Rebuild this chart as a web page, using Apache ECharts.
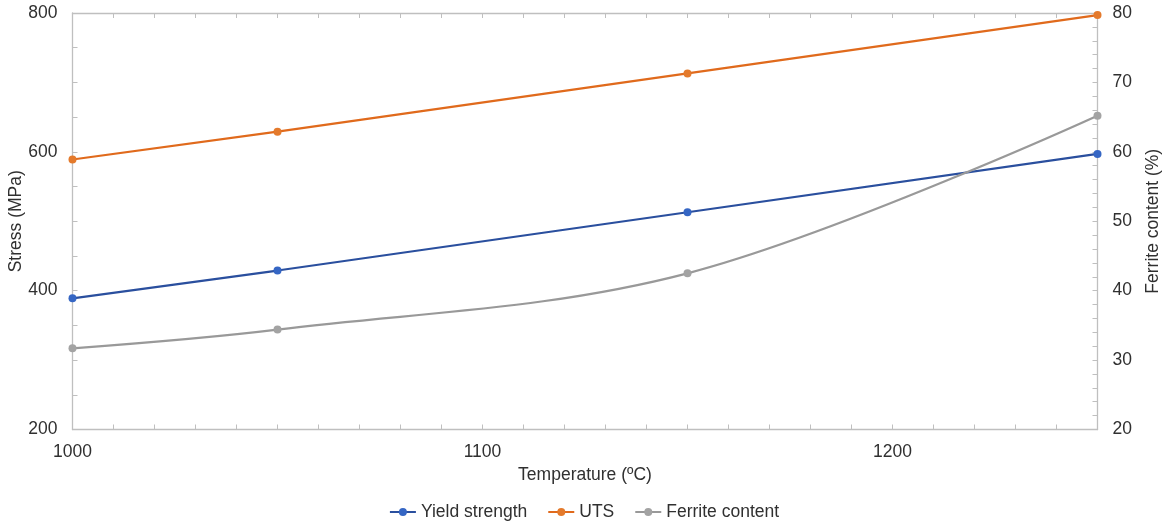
<!DOCTYPE html>
<html>
<head>
<meta charset="utf-8">
<script src="https://cdn.jsdelivr.net/npm/echarts@6/dist/echarts.min.js"></script>
<style>html,body{margin:0;padding:0;background:#fff}#c{width:1168px;height:524px}</style>
</head>
<body>
<div id="c"></div>
<script>
const temperatures = [1000, 1050, 1150, 1250];
const yieldStrength = [389, 429, 513, 597];
const uts = [589, 629, 713, 797];
const ferrite = [31.7, 34.4, 42.5, 65.2];
const xLabels = [1000, 1100, 1200];
const stressTicks = [200, 400, 600, 800];
const ferriteTicks = [20, 30, 40, 50, 60, 70, 80];

const pairs = (ys) => temperatures.map((t, i) => [t, ys[i]]);
const txt = '#303030';
const axisCol = '#bfbfbf';
const font = 'Liberation Sans, Arial, sans-serif';

const chart = echarts.init(document.getElementById('c'));
const xBase = {
  type: 'value', min: 1000, max: 1250, interval: 10,
  axisLine: { show: true, lineStyle: { color: axisCol, width: 1.3 } },
  axisTick: { show: true, inside: true, length: 5, lineStyle: { color: axisCol } },
  splitLine: { show: false }
};
chart.setOption({
  animation: false,
  textStyle: { fontFamily: font },
  grid: { left: 72.5, right: 70.5, top: 13, bottom: 94.5, containLabel: false, outerBoundsMode: 'none' },
  legend: {
    top: 498, left: 'center', itemWidth: 26, itemHeight: 10, itemGap: 20,
    textStyle: { fontSize: 17.5, color: txt, fontFamily: font },
    data: ['Yield strength', 'UTS', 'Ferrite content']
  },
  xAxis: [
    Object.assign({}, xBase, {
      position: 'bottom',
      name: 'Temperature (ºC)', nameLocation: 'middle', nameGap: 35,
      nameTextStyle: { fontSize: 17.5, color: txt },
      axisLabel: {
        show: true, fontSize: 17.5, color: txt, margin: 14,
        formatter: (v) => xLabels.indexOf(v) >= 0 ? String(v) : ''
      }
    }),
    Object.assign({}, xBase, { position: 'top', axisLabel: { show: false } })
  ],
  yAxis: [
    {
      type: 'value', position: 'left', min: 200, max: 800, interval: 200,
      name: 'Stress (MPa)', nameLocation: 'middle', nameGap: 47, nameRotate: 90,
      nameMoveOverlap: false,
      nameTextStyle: { fontSize: 17.5, color: txt },
      axisLine: { show: true, lineStyle: { color: axisCol, width: 1.3 } },
      axisTick: { show: true, inside: true, length: 5, lineStyle: { color: axisCol } },
      minorTick: { show: true, splitNumber: 4, length: 5, lineStyle: { color: axisCol } },
      axisLabel: { fontSize: 17.5, color: txt, margin: 15,
        formatter: (v) => stressTicks.indexOf(v) >= 0 ? String(v) : '' },
      splitLine: { show: false }
    },
    {
      type: 'value', position: 'right', min: 20, max: 80, interval: 10,
      name: 'Ferrite content (%)', nameLocation: 'middle', nameGap: 47, nameRotate: 90,
      nameTextStyle: { fontSize: 17.5, color: txt },
      axisLine: { show: true, lineStyle: { color: axisCol, width: 1.3 } },
      axisTick: { show: true, inside: true, length: 5, lineStyle: { color: axisCol } },
      minorTick: { show: true, splitNumber: 5, length: 5, lineStyle: { color: axisCol } },
      axisLabel: { fontSize: 17.5, color: txt, margin: 15,
        formatter: (v) => ferriteTicks.indexOf(v) >= 0 ? String(v) : '' },
      splitLine: { show: false }
    }
  ],
  series: [
    {
      name: 'Yield strength', type: 'line', xAxisIndex: 0, yAxisIndex: 0,
      data: pairs(yieldStrength), symbol: 'circle', symbolSize: 8,
      lineStyle: { color: '#2a4f9e', width: 2.2 },
      itemStyle: { color: '#3566c4' }
    },
    {
      name: 'UTS', type: 'line', xAxisIndex: 0, yAxisIndex: 0,
      data: pairs(uts), symbol: 'circle', symbolSize: 8,
      lineStyle: { color: '#e06a1c', width: 2.2 },
      itemStyle: { color: '#e47a2c' }
    },
    {
      name: 'Ferrite content', type: 'line', xAxisIndex: 0, yAxisIndex: 1,
      data: pairs(ferrite), symbol: 'circle', symbolSize: 8, smooth: 0.35,
      lineStyle: { color: '#999999', width: 2.2 },
      itemStyle: { color: '#a3a3a3' }
    }
  ]
});
</script>
</body>
</html>
